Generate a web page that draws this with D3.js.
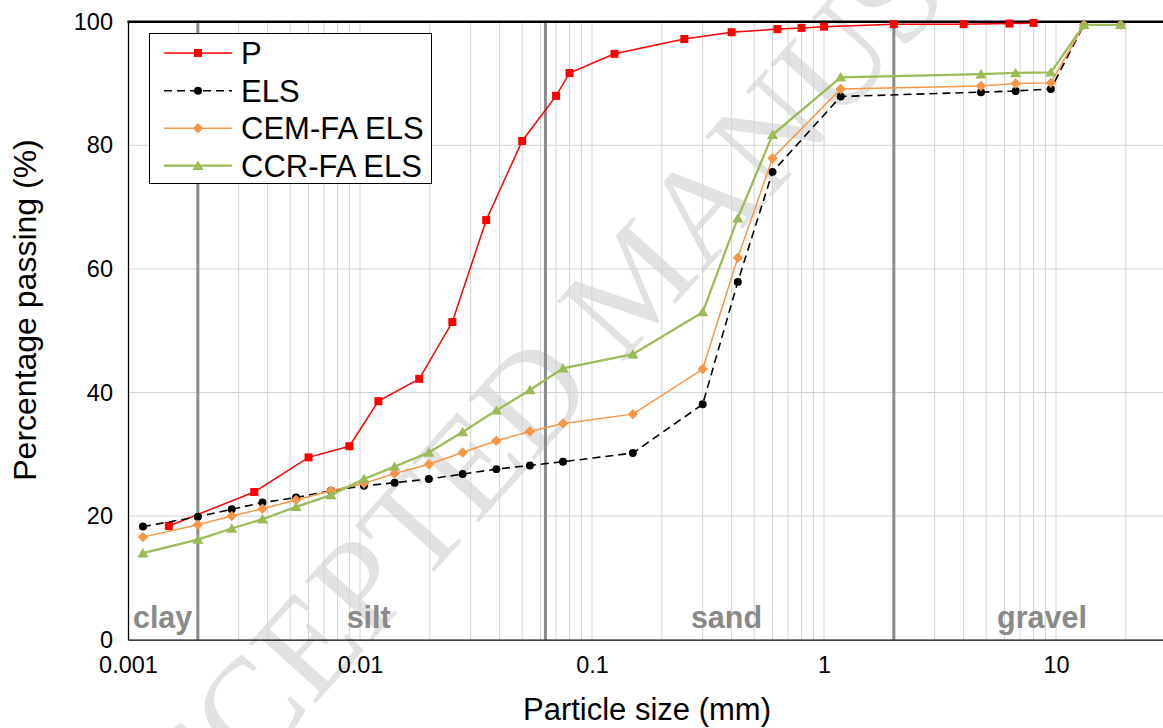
<!DOCTYPE html>
<html>
<head>
<meta charset="utf-8">
<script src="https://cdn.jsdelivr.net/npm/d3@7"></script>
<style>
  html, body { margin: 0; padding: 0; background: #fff; }
  svg { display: block; font-family: "Liberation Sans", Arial, sans-serif; }
</style>
</head>
<body>
<svg id="chart" width="1163" height="728"></svg>
<script>
// Particle size distribution data (size in mm, percentage passing)
const pSizes = [0.0015, 0.0035, 0.006, 0.009, 0.012, 0.018, 0.025, 0.035, 0.05, 0.07, 0.08,
                0.125, 0.25, 0.4, 0.63, 0.8, 1.0, 2.0, 4.0, 6.3, 8.0];
const pPassing = [18.4, 23.9, 29.5, 31.3, 38.6, 42.2, 51.4, 67.9, 80.7, 88.0, 91.7,
                  94.8, 97.2, 98.3, 98.8, 99.0, 99.2, 99.6, 99.6, 99.7, 99.8];

const soilSizes = [0.00116, 0.002, 0.0028, 0.0038, 0.0053, 0.0075, 0.0104, 0.0141, 0.0198, 0.0277,
                   0.0387, 0.054, 0.075, 0.15, 0.3, 0.425, 0.6, 1.18, 4.75, 6.7, 9.5, 13.2, 19.0];
const elsPassing = [18.3, 19.9, 21.1, 22.2, 23.0, 24.1, 24.9, 25.4, 26.0, 26.8,
                    27.6, 28.2, 28.8, 30.2, 38.1, 57.9, 75.7, 87.9, 88.6, 88.8, 89.1, 99.5, 99.5];
const cemPassing = [16.6, 18.6, 20.0, 21.2, 22.6, 24.1, 25.3, 26.9, 28.4, 30.3,
                    32.2, 33.7, 35.0, 36.5, 43.8, 61.8, 77.9, 89.1, 89.6, 90.0, 90.1, 99.5, 99.5];
const ccrPassing = [14.0, 16.2, 18.0, 19.5, 21.5, 23.4, 26.0, 28.0, 30.3, 33.6,
                    37.1, 40.4, 43.9, 46.2, 53.0, 68.2, 81.7, 91.0, 91.5, 91.7, 91.8, 99.5, 99.5];

const seriesNames = ["P", "ELS", "CEM-FA ELS", "CCR-FA ELS"];

const xTickValues = [0.001, 0.01, 0.1, 1, 10];
const xTickLabels = ["0.001", "0.01", "0.1", "1", "10"];
const yTickValues = [0, 20, 40, 60, 80, 100];

// Soil fraction boundaries (mm) and where each fraction name sits
const fractionBounds = [0.002, 0.063, 2];
const fractionNames = ["clay", "silt", "sand", "gravel"];
const fractionCentres = [0.00141, 0.0109, 0.38, 8.7];

const svg = d3.select("#chart");
const plotLeft = 128, plotTop = 21.7, plotH = 618, decade = 232;
const plotBottom = plotTop + plotH;

const x = d3.scaleLog().domain([0.001, 100]).range([plotLeft, plotLeft + 5 * decade]);
const y = d3.scaleLinear().domain([0, 100]).range([plotBottom, plotTop]);

// Diagonal stamp, drawn first so the chart sits over it
svg.append("text")
  .attr("transform", "translate(634,281) rotate(-48)")
  .attr("text-anchor", "middle")
  .attr("dominant-baseline", "central")
  .attr("font-family", "'Liberation Serif', 'Times New Roman', serif")
  .attr("font-size", 137)
  .attr("fill", "#e2e2e2")
  .text("ACCEPTED MANUSCRIPT");

// Gridlines: every integer multiple within each decade
const gridX = [];
for (let e = -3; e <= 1; e++) {
  for (let m = 1; m <= 9; m++) {
    const v = +(m * Math.pow(10, e)).toPrecision(3);
    if (v > 0.001) gridX.push(v);
  }
}
const grid = svg.append("g").attr("stroke", "#d3d3d3").attr("stroke-width", 1);
grid.selectAll("line.v").data(gridX).join("line")
  .attr("class", "v")
  .attr("x1", d => x(d)).attr("x2", d => x(d))
  .attr("y1", y(0)).attr("y2", y(100));
grid.selectAll("line.h").data(yTickValues.filter(v => v > 0 && v < 100)).join("line")
  .attr("class", "h")
  .attr("x1", plotLeft).attr("x2", x(100))
  .attr("y1", d => y(d)).attr("y2", d => y(d));

// Fraction boundaries
svg.append("g").selectAll("line").data(fractionBounds).join("line")
  .attr("x1", d => x(d)).attr("x2", d => x(d))
  .attr("y1", y(0)).attr("y2", y(100))
  .attr("stroke", "#8a8a8a").attr("stroke-width", 3);

// Fraction names
svg.append("g").selectAll("text").data(fractionNames).join("text")
  .attr("x", (d, i) => x(fractionCentres[i]))
  .attr("y", 628)
  .attr("text-anchor", "middle")
  .attr("font-size", 30.5).attr("font-weight", "bold")
  .attr("fill", "#8a8a8a")
  .text(d => d);

// Axes
const yAxis = d3.axisLeft(y).tickValues(yTickValues).tickSize(0).tickSizeOuter(0).tickPadding(15);
const gy = svg.append("g").attr("transform", `translate(${plotLeft},0)`).call(yAxis);
const xAxis = d3.axisBottom(x).tickValues(xTickValues)
  .tickFormat((d, i) => xTickLabels[i]).tickSize(0).tickSizeOuter(0).tickPadding(17);
const gx = svg.append("g").attr("transform", `translate(0,${plotBottom})`).call(xAxis);
[gx, gy].forEach(g => {
  g.select(".domain").attr("stroke", "#000").attr("stroke-width", 1.3);
  g.selectAll("text").attr("font-size", 23.5).attr("fill", "#000")
    .attr("font-family", "'Liberation Sans', Arial, sans-serif");
});
svg.append("line")
  .attr("x1", plotLeft - 0.6).attr("x2", x(100))
  .attr("y1", plotTop).attr("y2", plotTop)
  .attr("stroke", "#000").attr("stroke-width", 2.5);

// Axis titles
svg.append("text")
  .attr("x", 647).attr("y", 720)
  .attr("text-anchor", "middle").attr("font-size", 31)
  .text("Particle size (mm)");
svg.append("text")
  .attr("transform", "translate(36,310) rotate(-90)")
  .attr("text-anchor", "middle").attr("font-size", 32)
  .text("Percentage passing (%)");

// Marker shapes
const markerPath = {
  square: "M-4,-4H4V4H-4Z",
  circle: d3.symbol(d3.symbolCircle, 50)(),
  diamond: "M0,-5.2L5.2,0L0,5.2L-5.2,0Z",
  triangle: "M0,-5.2L5.6,4.2L-5.6,4.2Z"
};

const series = [
  { name: seriesNames[0], sizes: pSizes,    values: pPassing,   color: "#ff0000", width: 1.5,  dash: null,  marker: "square" },
  { name: seriesNames[1], sizes: soilSizes, values: elsPassing, color: "#000000", width: 1.6,  dash: "8,5", marker: "circle" },
  { name: seriesNames[2], sizes: soilSizes, values: cemPassing, color: "#f79646", width: 1.5,  dash: null,  marker: "diamond" },
  { name: seriesNames[3], sizes: soilSizes, values: ccrPassing, color: "#9bbb59", width: 2.25, dash: null,  marker: "triangle" }
];

const line = d3.line().x(d => x(d[0])).y(d => y(d[1]));

series.forEach(s => {
  const pts = s.sizes.map((v, i) => [v, s.values[i]]);
  const g = svg.append("g");
  g.append("path").datum(pts)
    .attr("d", line)
    .attr("fill", "none")
    .attr("stroke", s.color)
    .attr("stroke-width", s.width)
    .attr("stroke-dasharray", s.dash);
  g.selectAll("path.m").data(pts).join("path")
    .attr("class", "m")
    .attr("d", markerPath[s.marker])
    .attr("transform", d => `translate(${x(d[0])},${y(d[1])})`)
    .attr("fill", s.color);
});

// Legend
const legend = svg.append("g");
legend.append("rect")
  .attr("x", 149.5).attr("y", 33.5).attr("width", 282).attr("height", 150)
  .attr("fill", "#fff").attr("stroke", "#000").attr("stroke-width", 1);
const rowY = [53, 90.7, 128.3, 165.7];
series.forEach((s, i) => {
  const row = legend.append("g").attr("transform", `translate(0,${rowY[i]})`);
  row.append("line")
    .attr("x1", 164).attr("x2", 232)
    .attr("stroke", s.color).attr("stroke-width", s.width)
    .attr("stroke-dasharray", s.dash);
  row.append("path").attr("d", markerPath[s.marker])
    .attr("transform", "translate(198,0)").attr("fill", s.color);
  row.append("text")
    .attr("x", 241).attr("y", 11)
    .attr("font-size", 31).attr("fill", "#000")
    .text(s.name);
});
</script>
</body>
</html>
